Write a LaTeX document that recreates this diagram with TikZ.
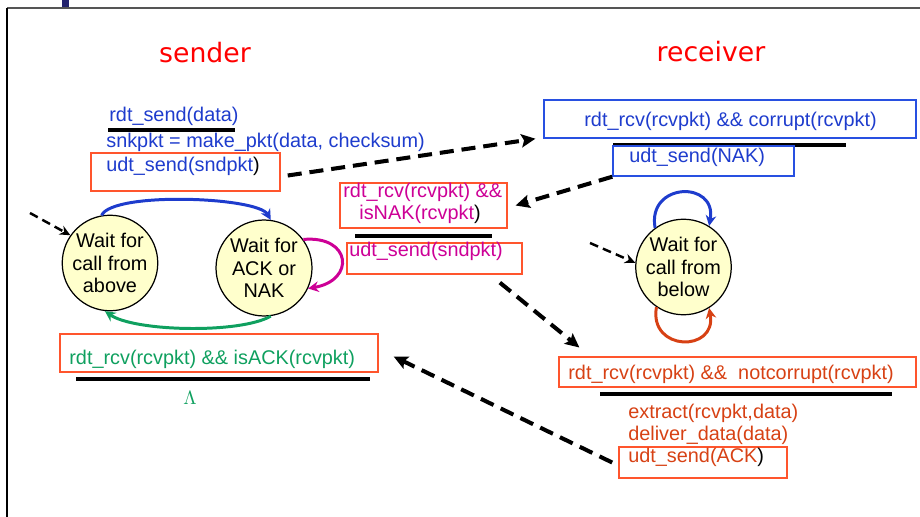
\documentclass[tikz,border=0pt]{standalone}
\usepackage{fontspec}
\setmainfont{Liberation Sans}
\newfontfamily\headfont{DejaVu Sans}
\usetikzlibrary{arrows.meta,fit}
\definecolor{fsmblue}{RGB}{30,60,205}
\definecolor{boxblue}{RGB}{40,80,225}
\definecolor{boxred}{RGB}{255,85,45}
\definecolor{titlered}{RGB}{255,0,0}
\definecolor{nakmag}{RGB}{205,0,150}
\definecolor{ackgreen}{RGB}{15,160,95}
\definecolor{rcvorange}{RGB}{215,65,20}
\definecolor{statefill}{RGB}{255,255,204}
\definecolor{framegray}{RGB}{85,85,85}
\definecolor{hdnavy}{RGB}{35,35,110}

\begin{document}
\begin{tikzpicture}[x=0.02cm,y=0.02cm,
  every node/.style={inner sep=0pt,font=\fontsize{11.3}{12.8}\selectfont},
  txt/.style={anchor=base west},
  head/.style={anchor=base,text=titlered,font=\headfont\fontsize{15.2}{18}\selectfont},
  state/.style={circle,draw=black,line width=0.7pt,fill=statefill,minimum size=#1,align=center},
  evbox/.style={draw=#1,line width=0.8pt},
  barline/.style={line width=2pt},
  msgline/.style={line width=2.3pt,dash pattern=on 8pt off 4.5pt,-{Stealth[length=8pt,width=7.5pt,inset=1.5pt]}},
  initline/.style={line width=1.4pt,dash pattern=on 5pt off 3pt,-{Stealth[length=6pt,width=5.5pt]}},
  arcln/.style={draw=#1,line width=1.7pt,-{Stealth[length=6pt,width=6pt]}}]
  \useasboundingbox (0,0) rectangle (920,-517);
  \fill[hdnavy] (62,0) rectangle (69,-7);
  \draw[framegray,line width=1.1pt] (7,-8) -- (920,-8);
  \draw[black,line width=1.1pt] (7,-8) -- (7,-517);

  \node[head] (sndtitle) at (205,-63) {sender};
  \node[head] (rcvtitle) at (711,-62) {receiver};

  \node[txt,text=fsmblue] (sndev) at (109,-122) {rdt\_send(data)};
  \draw[barline] (108,-130) -- (235,-130);
  \node[txt,text=fsmblue] (mkpkt) at (106,-148) {snkpkt = make\_pkt(data, checksum)};
  \node[evbox=boxred,fit={(91,-153) (280,-191)}] (sndbox) {};
  \node[txt,text=fsmblue] (sndact) at (106,-172) {udt\_send(sndpkt{\color{black})}};

  \node[state=1.88cm] (above) at (110,-263) {Wait for\\call from\\above};
  \node[state=1.92cm] (acknak) at (264,-268) {Wait for\\ACK or\\NAK};
  \node[state=1.88cm] (below) at (683.5,-267) {Wait for\\call from\\below};

  \coordinate (initsnd) at (30,-213);
  \draw[initline] (initsnd) -- (above.145);
  \coordinate (initrcv) at (590,-243);
  \draw[initline] (initrcv) -- (below.175);

  \draw[arcln=fsmblue] (above.100) to[out=65,in=120,looseness=0.4] (acknak.82);
  \draw[arcln=ackgreen] (acknak.-82) to[out=-150,in=-35,looseness=0.55] (above.-96);
  \draw[arcln=nakmag] (acknak.36) to[out=5,in=10,looseness=2.5] (acknak.-25);
  \draw[arcln=fsmblue] (below.126) to[out=100,in=80,looseness=2.2] (below.58);
  \draw[arcln=rcvorange] (below.236) to[out=-100,in=-80,looseness=2.2] (below.-58);

  \node[evbox=boxred,fit={(60,-334) (378,-372)}] (ackbox) {};
  \node[txt,text=ackgreen] (ackev) at (69,-364) {rdt\_rcv(rcvpkt) \&\& isACK(rcvpkt)};
  \draw[barline] (76,-379) -- (370,-379);
  \node[anchor=base,text=ackgreen] (lambda) at (190,-404) {$\Lambda$};

  \node[evbox=boxred,fit={(340,-183) (507,-228)}] (isnakbox) {};
  \node[txt,text=nakmag] (naktrig) at (343,-197) {rdt\_rcv(rcvpkt) \&\&};
  \node[txt,text=nakmag] (isnak) at (359,-219) {isNAK(rcvpkt{\color{black})}};
  \draw[barline] (355,-236) -- (492,-236);
  \node[evbox=boxred,fit={(347,-243) (522,-274)}] (resendbox) {};
  \node[txt,text=nakmag] (resend) at (349,-256) {udt\_send(sndpkt)};

  \node[evbox=boxblue,fit={(544,-100) (916,-138)}] (corruptbox) {};
  \node[txt,text=fsmblue] (corrupt) at (584,-127) {rdt\_rcv(rcvpkt) \&\& corrupt(rcvpkt)};
  \draw[barline] (613,-145) -- (846,-145);
  \node[evbox=boxblue,fit={(613,-146) (794,-176)}] (nakact) {};
  \node[txt,text=fsmblue] (sendnak) at (629,-163) {udt\_send(NAK)};

  \node[evbox=boxred,fit={(559,-357) (916,-387)}] (okbox) {};
  \node[txt,text=rcvorange] (okev) at (568,-379) {rdt\_rcv(rcvpkt) \&\&\ \ notcorrupt(rcvpkt)};
  \draw[barline] (600,-394) -- (892,-394);
  \node[txt,text=rcvorange] (extract) at (628,-418) {extract(rcvpkt,data)};
  \node[txt,text=rcvorange] (deliver) at (628,-440) {deliver\_data(data)};
  \node[evbox=boxred,fit={(619,-447) (787,-478)}] (ackrbox) {};
  \node[txt,text=rcvorange] (sendack) at (628,-462) {udt\_send(ACK{\color{black})}};

  \draw[msgline] ([xshift=4pt,yshift=-2pt]sndbox.east) -- ([xshift=-4.5pt]corruptbox.south west);
  \draw[msgline] (nakact.south west) -- ([xshift=4.5pt]isnakbox.east);
  \draw[msgline] ([xshift=-13pt,yshift=-4.5pt]resendbox.south east) -- ([xshift=12pt,yshift=5pt]okbox.north west);
  \draw[msgline] ([xshift=-3.5pt]ackrbox.west) -- ([xshift=8.5pt,yshift=-2pt]ackbox.east);
\end{tikzpicture}
\end{document}
